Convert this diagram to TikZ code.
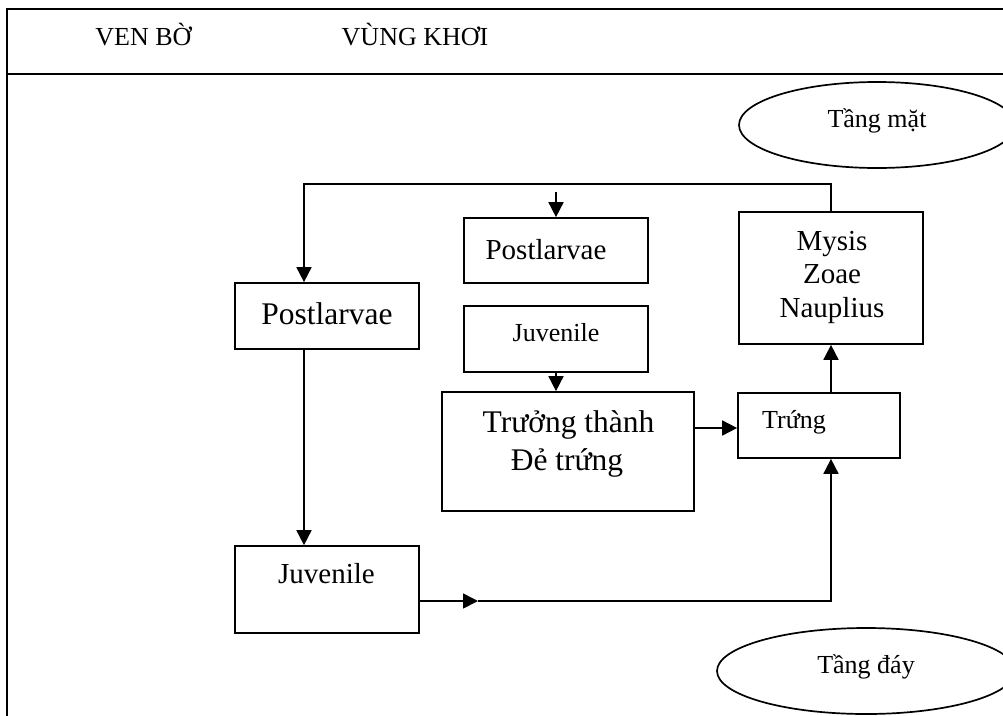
\documentclass[tikz,border=0pt]{standalone}
\usepackage{fontspec}
\setmainfont{Liberation Serif}
\usetikzlibrary{arrows.meta,shapes.geometric}
\tikzset{
  ln/.style={line width=1.7pt},
  stagebox/.style={draw, line width=1.7pt, rectangle, inner sep=0pt},
  oval/.style={draw, line width=1.7pt, ellipse, inner sep=0pt},
  arr/.style={ln, -{Triangle[length=15pt,width=15pt]}},
  txt/.style={anchor=base, inner sep=0pt},
  fA/.style={font=\fontsize{26}{30}\selectfont},
  fB/.style={font=\fontsize{29}{33}\selectfont},
  fC/.style={font=\fontsize{31.5}{36}\selectfont},
}
\begin{document}
\begin{tikzpicture}[x=1pt,y=-1pt]
\useasboundingbox (0,0) rectangle (1003,715);
\clip (0,0) rectangle (1003,715);
% frame
\draw[ln] (1010,9) -- (7,9) -- (7,720);
\draw[ln] (7,74) -- (1010,74);
\node[txt,fA] (hven) at (143.5,45) {VEN BỜ};
\node[txt,fA] (hkhoi) at (415,45) {VÙNG KHƠI};
% ellipses
\node[oval, minimum width=276pt, minimum height=86pt] (emat) at (877,125) {};
\node[txt,fA] (tmat) at (877,127) {Tầng mặt};
\node[oval, minimum width=298pt, minimum height=86pt] (eday) at (866,671) {};
\node[txt,fA] (tday) at (866,673) {Tầng đáy};
% boxes
\node[stagebox, minimum width=184pt, minimum height=66pt] (PL1) at (327,316) {};
\node[txt,fC] (tPL1) at (327,324) {Postlarvae};
\node[stagebox, minimum width=184pt, minimum height=87pt] (JV1) at (327,589.5) {};
\node[txt,fB] (tJV1) at (326.5,583) {Juvenile};
\node[stagebox, minimum width=184pt, minimum height=65pt] (PL2) at (556,250.5) {};
\node[txt,fB] (tPL2) at (546,259) {Postlarvae};
\node[stagebox, minimum width=184pt, minimum height=66pt] (JV2) at (556,339) {};
\node[txt,fA] (tJV2) at (556,341) {Juvenile};
\node[stagebox, minimum width=252pt, minimum height=119pt] (TT) at (568,451.5) {};
\node[txt,fC] (tTT1) at (568.5,432) {Trưởng thành};
\node[txt,fC] (tTT2) at (567,470) {Đẻ trứng};
\node[stagebox, minimum width=162pt, minimum height=65pt] (TR) at (819,425.5) {};
\node[txt,fA,anchor=base west] (tTR) at (762,428) {Trứng};
\node[stagebox, minimum width=184pt, minimum height=132pt] (MY) at (831,278) {};
\node[txt,fB] (tMY1) at (832,250) {Mysis};
\node[txt,fB] (tMY2) at (832,283.5) {Zoae};
\node[txt,fB] (tMY3) at (832,317) {Nauplius};
% helper coordinates
\coordinate (loopTop) at (0,184);
\coordinate (plx) at (304,0);
\coordinate (sa) at (556,192);
\coordinate (jy) at (0,601);
\coordinate (mid) at (478,601);
\coordinate (tty) at (0,428);
% connectors
\draw[arr] (MY.north) |- (loopTop -| plx) -- (PL1.north -| plx);
\draw[arr] (sa) -- (PL2.north);
\draw[arr] (PL1.south -| plx) -- (JV1.north -| plx);
\draw[arr] (JV2.south) -- (JV2.south |- TT.north);
\draw[arr] (TT.east |- tty) -- (TR.west |- tty);
\draw[arr] (MY.south |- TR.north) -- (MY.south);
\draw[arr] (JV1.east |- jy) -- (mid);
\draw[arr] (mid) -| (MY.south |- TR.south);
\end{tikzpicture}
\end{document}
